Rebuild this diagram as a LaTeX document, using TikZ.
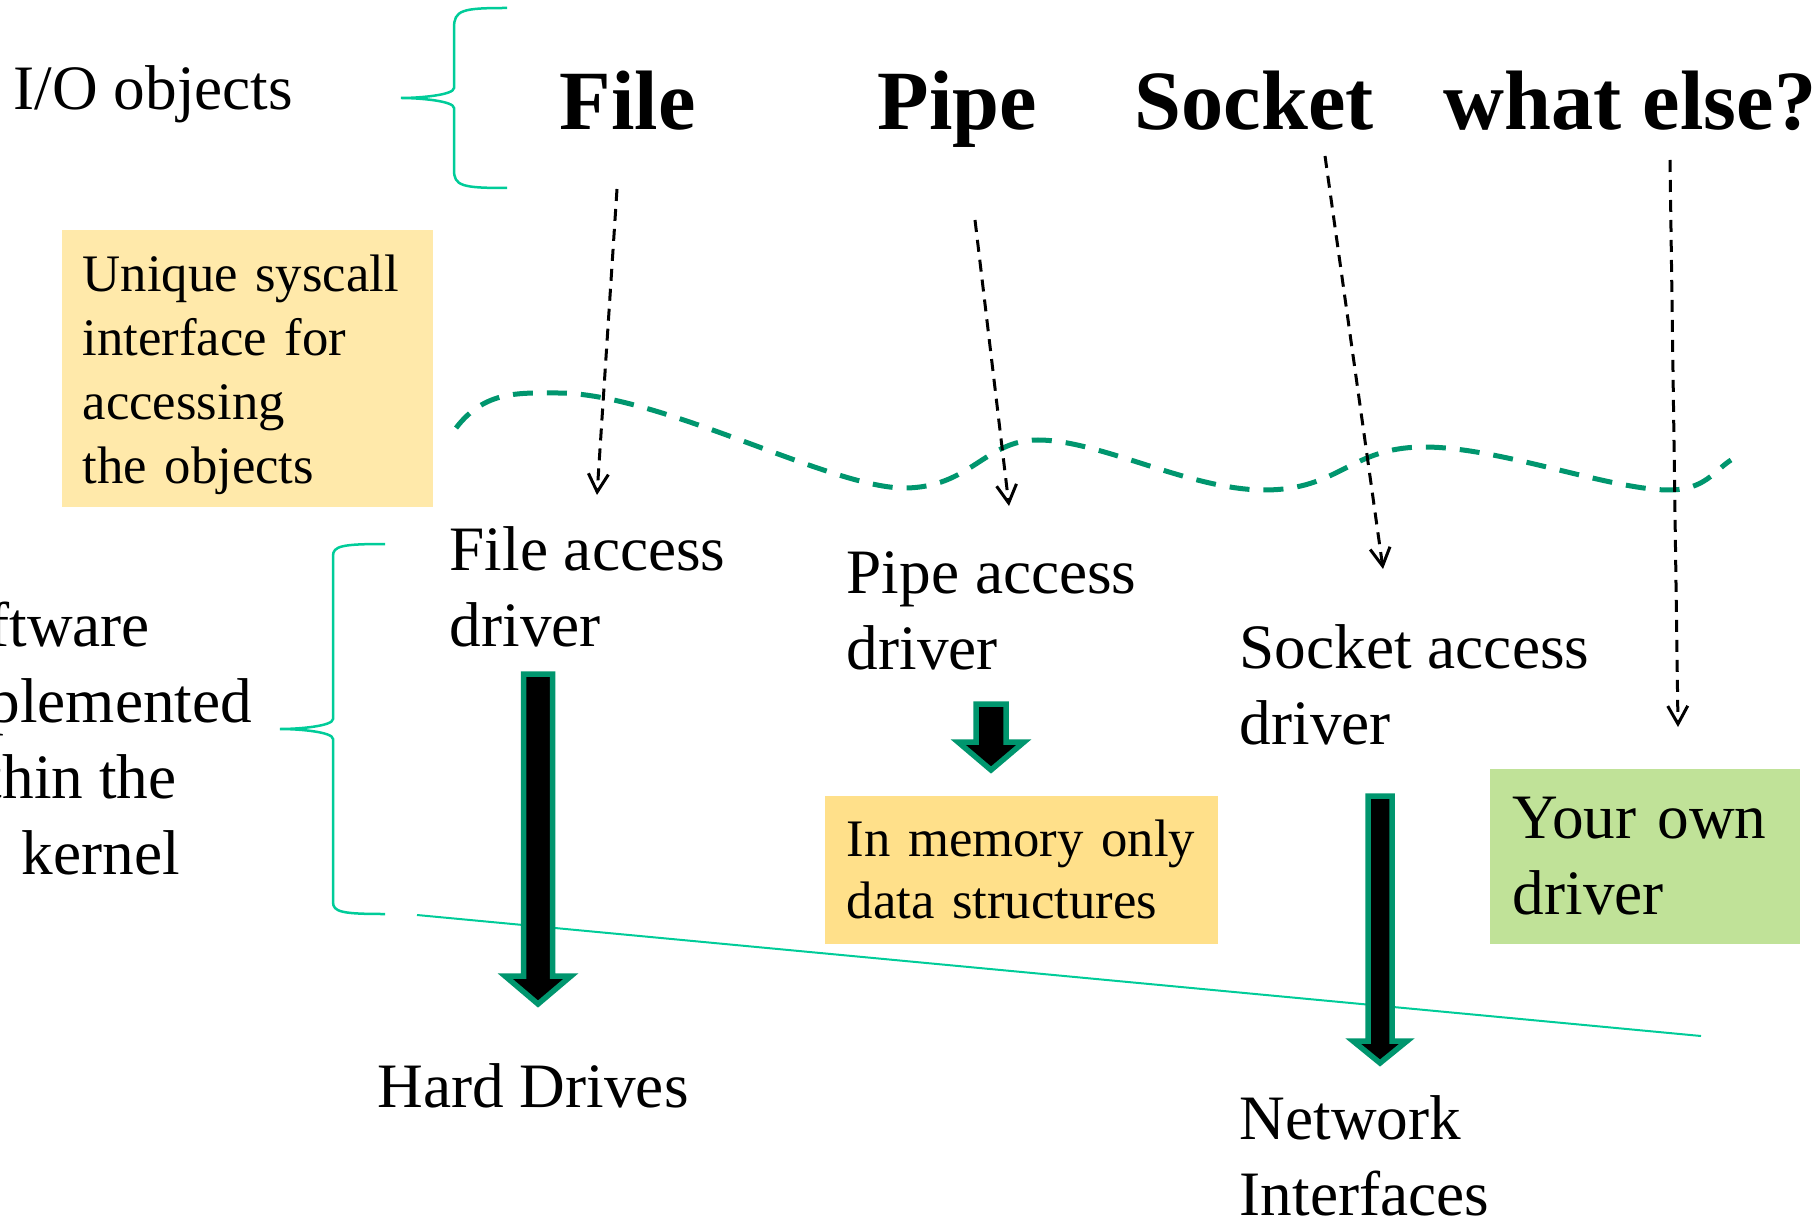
\documentclass[tikz,border=0pt]{standalone}
\usepackage{fontspec}
\setmainfont{Liberation Serif}
\usetikzlibrary{positioning,calc,arrows.meta}

\definecolor{bracegreen}{RGB}{0,204,153}
\definecolor{darkgreen}{RGB}{0,150,110}
\definecolor{paleyellow}{RGB}{255,233,170}
\definecolor{memyellow}{RGB}{255,224,138}
\definecolor{lightgreen}{RGB}{192,226,152}

\tikzset{
  txt/.style={font=\fontsize{18}{21.6}\selectfont,inner sep=0pt,align=left,anchor=base west},
  ioword/.style={font=\fontsize{24}{28}\selectfont\bfseries,inner sep=0pt,anchor=base west},
  colbox/.style={anchor=north west,inner ysep=0pt,align=left},
  kbrace/.style={draw=bracegreen,line width=0.25mm},
  dasharr/.style={line width=0.3mm,dash pattern=on 1.2mm off 0.8mm,-{Straight Barb[length=1.8mm,width=2mm]}},
  blockarr/.style={fill=black,draw=darkgreen,line width=0.55mm,miter limit=10}
}

% block arrow: from, to, shaft half width, head half width, head length
\newcommand{\blockarrow}[5]{%
  \filldraw[blockarr] ($(#1)+(-#3,0)$) -- ($(#1)+(#3,0)$) -- ($(#2)+(#3,#5)$) -- ($(#2)+(#4,#5)$)
    -- (#2) -- ($(#2)+(-#4,#5)$) -- ($(#2)+(-#3,#5)$) -- cycle;}

\begin{document}
\begin{tikzpicture}
  \clip (0,0) rectangle (18.14,-12.19);

  % I/O objects
  \node[txt] (io) at (0.13,-1.10) {I/O objects};
  \draw[kbrace] (5.07,-0.08) .. controls (4.62,-0.08) and (4.54,-0.10) .. (4.54,-0.28) -- (4.54,-0.88)
    .. controls (4.54,-0.95) and (4.20,-0.98) .. (4.01,-0.98)
    .. controls (4.20,-0.98) and (4.54,-1.01) .. (4.54,-1.08) -- (4.54,-1.70)
    .. controls (4.54,-1.86) and (4.62,-1.88) .. (5.07,-1.88);
  \node[ioword] (file) at (5.59,-1.30) {File};
  \node[ioword] (pipe) at (8.77,-1.30) {Pipe};
  \node[ioword] (sock) at (11.34,-1.30) {Socket};
  \node[ioword] (else) at (14.43,-1.30) {what else?};

  \node[colbox,fill=paleyellow,font=\fontsize{15}{18.2}\selectfont,minimum height=2.77cm,text width=3.29cm,inner xsep=0.21cm] (sys) at (0.61,-2.29) {\rule{0pt}{0.49cm}Unique syscall\\interface for\\accessing\\the objects};

  % user / kernel border
  \draw[darkgreen,line width=0.5mm,dash pattern=on 2mm off 1.4mm] (4.56,-4.28)
    .. controls (4.85,-3.90) and (5.20,-3.93) .. (5.58,-3.93)
    .. controls (6.60,-3.93) and (8.30,-4.88) .. (9.04,-4.88)
    .. controls (9.70,-4.88) and (9.85,-4.40) .. (10.38,-4.40)
    .. controls (11.00,-4.40) and (11.90,-4.90) .. (12.64,-4.90)
    .. controls (13.40,-4.90) and (13.50,-4.47) .. (14.24,-4.47)
    .. controls (15.00,-4.47) and (16.10,-4.90) .. (16.69,-4.90)
    .. controls (17.05,-4.90) and (17.15,-4.70) .. (17.31,-4.60);

  \coordinate (f1) at (6.17,-1.89);  \coordinate (f2) at (5.97,-4.95);
  \coordinate (p1) at (9.75,-2.20);  \coordinate (p2) at (10.09,-5.06);
  \coordinate (s1) at (13.25,-1.56); \coordinate (s2) at (13.83,-5.69);
  \coordinate (w1) at (16.70,-1.60); \coordinate (w2) at (16.78,-7.27);
  \draw[dasharr] (f1) -- (f2);
  \draw[dasharr] (p1) -- (p2);
  \draw[dasharr] (s1) -- (s2);
  \draw[dasharr] (w1) -- (w2);

  % drivers
  \node[txt] (fdrv) at (4.49,-6.46) {File access\\driver};
  \node[txt] (pdrv) at (8.46,-6.69) {Pipe access\\driver};
  \node[txt] (sdrv) at (12.39,-7.44) {Socket access\\driver};
  \node[colbox,fill=lightgreen,font=\fontsize{18}{21.6}\selectfont,minimum height=1.75cm,text width=2.64cm,inner xsep=0.23cm] (own) at (14.89,-7.68) {Your own\\driver};
  \node[colbox,fill=memyellow,font=\fontsize{15}{17.6}\selectfont,minimum height=1.48cm,text width=3.49cm,inner xsep=0.22cm] (mem) at (8.24,-7.95) {In memory only\\data structures};

  \node[txt] (sw) at (-0.79,-8.74) {Software\\implemented\\within the\\\hspace*{1cm}kernel};
  \draw[kbrace] (3.85,-5.44) .. controls (3.42,-5.44) and (3.33,-5.46) .. (3.33,-5.56) -- (3.33,-7.19)
    .. controls (3.33,-7.26) and (3.00,-7.29) .. (2.80,-7.29)
    .. controls (3.00,-7.29) and (3.33,-7.32) .. (3.33,-7.39) -- (3.33,-9.02)
    .. controls (3.33,-9.12) and (3.42,-9.14) .. (3.85,-9.14);

  \coordinate (hw1) at (4.17,-9.15);
  \coordinate (hw2) at (17.01,-10.36);
  \draw[bracegreen,line width=0.2mm] (hw1) -- (hw2);

  \node[txt] (hdd) at (3.77,-11.07) {Hard Drives};
  \node[txt] (net) at (12.39,-12.15) {Network\\Interfaces};

  \coordinate (fa1) at (5.38,-6.74);  \coordinate (fa2) at (5.38,-10.04);
  \coordinate (pa1) at (9.91,-7.04);  \coordinate (pa2) at (9.91,-7.70);
  \coordinate (sa1) at (13.80,-7.96); \coordinate (sa2) at (13.80,-10.63);
  \blockarrow{fa1}{fa2}{0.145}{0.33}{0.28}
  \blockarrow{pa1}{pa2}{0.15}{0.33}{0.28}
  \blockarrow{sa1}{sa2}{0.12}{0.27}{0.22}
\end{tikzpicture}
\end{document}
